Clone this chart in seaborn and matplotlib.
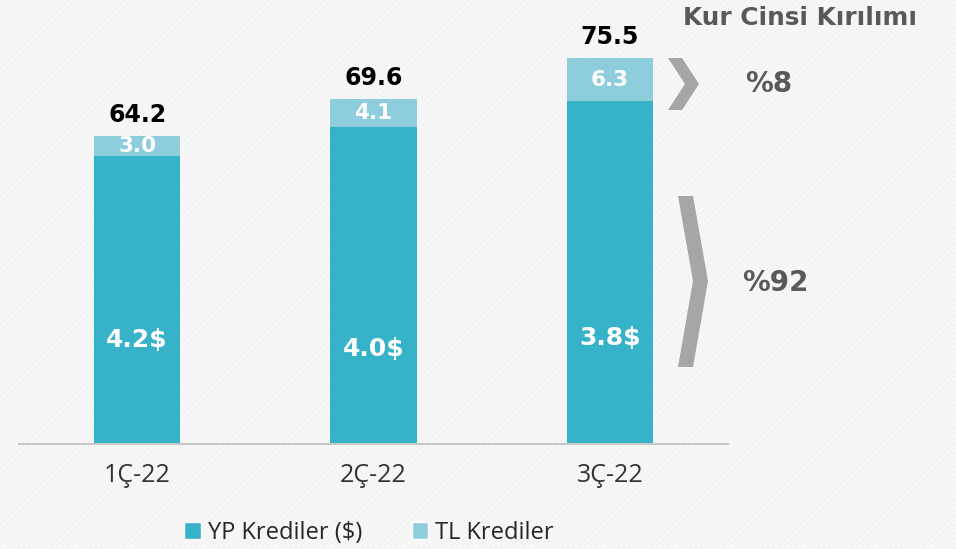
import pandas as pd
import matplotlib.pyplot as plt
import seaborn as sns
from matplotlib.patches import Polygon, Rectangle, Patch

# values (billion)
quarters = ["1Ç-22", "2Ç-22", "3Ç-22"]
total = [64.2, 69.6, 75.5]
tl_loans = [3.0, 4.1, 6.3]
fx_usd_labels = ["4.2$", "4.0$", "3.8$"]
split_labels = ["%8", "%92"]

fx_loans = [round(t - tl, 1) for t, tl in zip(total, tl_loans)]
df = pd.DataFrame({"ceyrek": quarters, "toplam": total, "yp": fx_loans, "tl": tl_loans})

dark = "#36b2c9"
light = "#8dcddc"
grey_txt = "#595959"
bold_font = ["DejaVu Sans"]

sns.set_style("white")
plt.rcParams["font.family"] = ["Open Sans", "DejaVu Sans"]
plt.rcParams["hatch.linewidth"] = 0.8

fig = plt.figure(figsize=(9.56, 5.49), dpi=100)
fig.patch.set_facecolor("#f4f4f4")
# faint diagonal stripes in the background
fig.patches.append(Rectangle((0, 0), 1, 1, transform=fig.transFigure, facecolor="#f4f4f4",
                             edgecolor="#fbfbfb", hatch="//////", linewidth=0, zorder=-10))

ax = fig.add_axes([0.0199, 0.1913, 0.7416, 0.8087])
ax.set_facecolor("none")

sns.barplot(data=df, x="ceyrek", y="toplam", color=light, width=0.364, saturation=1,
            linewidth=0, ax=ax)
sns.barplot(data=df, x="ceyrek", y="yp", color=dark, width=0.364, saturation=1,
            linewidth=0, ax=ax)

ax.set_ylim(19.5, 83.9)
ax.set_xlim(-0.5, 2.5)
ax.set_xlabel("")
ax.set_ylabel("")
ax.set_yticks([])
ax.tick_params(axis="x", length=0, pad=14, labelsize=18, labelcolor="#333333")
for s in ["top", "right", "left"]:
    ax.spines[s].set_visible(False)
ax.spines["bottom"].set_color("#c8c8c8")
ax.spines["bottom"].set_linewidth(1.5)

fx_label_y = [34.6, 33.3, 34.9]
for i in range(len(quarters)):
    ax.text(i, total[i] + 1.3, f"{total[i]:.1f}", ha="center", va="bottom", family=bold_font,
            fontsize=17, fontweight="bold", color="black")
    ax.text(i, fx_loans[i] + tl_loans[i] / 2, f"{tl_loans[i]:.1f}", ha="center", va="center",
            family=bold_font, fontsize=15.5, fontweight="bold", color="white")
    ax.text(i, fx_label_y[i], fx_usd_labels[i], ha="center", va="center", family=bold_font,
            fontsize=18, fontweight="bold", color="white")

# chevrons on the right
W, H = 956, 549
def chevron(pts):
    p = Polygon([(x / W, 1 - y / H) for x, y in pts], closed=True, transform=fig.transFigure,
                facecolor="#a6a6a6", edgecolor="none")
    fig.patches.append(p)

chevron([(668, 58), (682, 58), (699, 84), (682, 110), (668, 110), (685, 84)])
chevron([(678, 196), (693, 196), (708, 281), (693, 367), (678, 367), (693, 281)])

fig.text(769 / W, 1 - 84 / H, split_labels[0], ha="center", va="center", family=bold_font,
         fontsize=20, fontweight="bold", color=grey_txt)
fig.text(775 / W, 1 - 283 / H, split_labels[1], ha="center", va="center", family=bold_font,
         fontsize=20, fontweight="bold", color=grey_txt)
fig.text(800 / W, 1 - 18 / H, "Kur Cinsi Kırılımı", ha="center", va="center", family=bold_font,
         fontsize=17.8, fontweight="bold", color=grey_txt)

handles = [Patch(facecolor=dark, label="YP Krediler ($)"), Patch(facecolor=light, label="TL Krediler")]
fig.legend(handles=handles, loc="center", bbox_to_anchor=(369 / W, 1 - 533 / H), ncol=2,
           frameon=False, fontsize=17, handlelength=0.7, handleheight=0.7,
           handletextpad=0.3, columnspacing=2.1)

fig.savefig("out.png", dpi=100, facecolor=fig.get_facecolor())
